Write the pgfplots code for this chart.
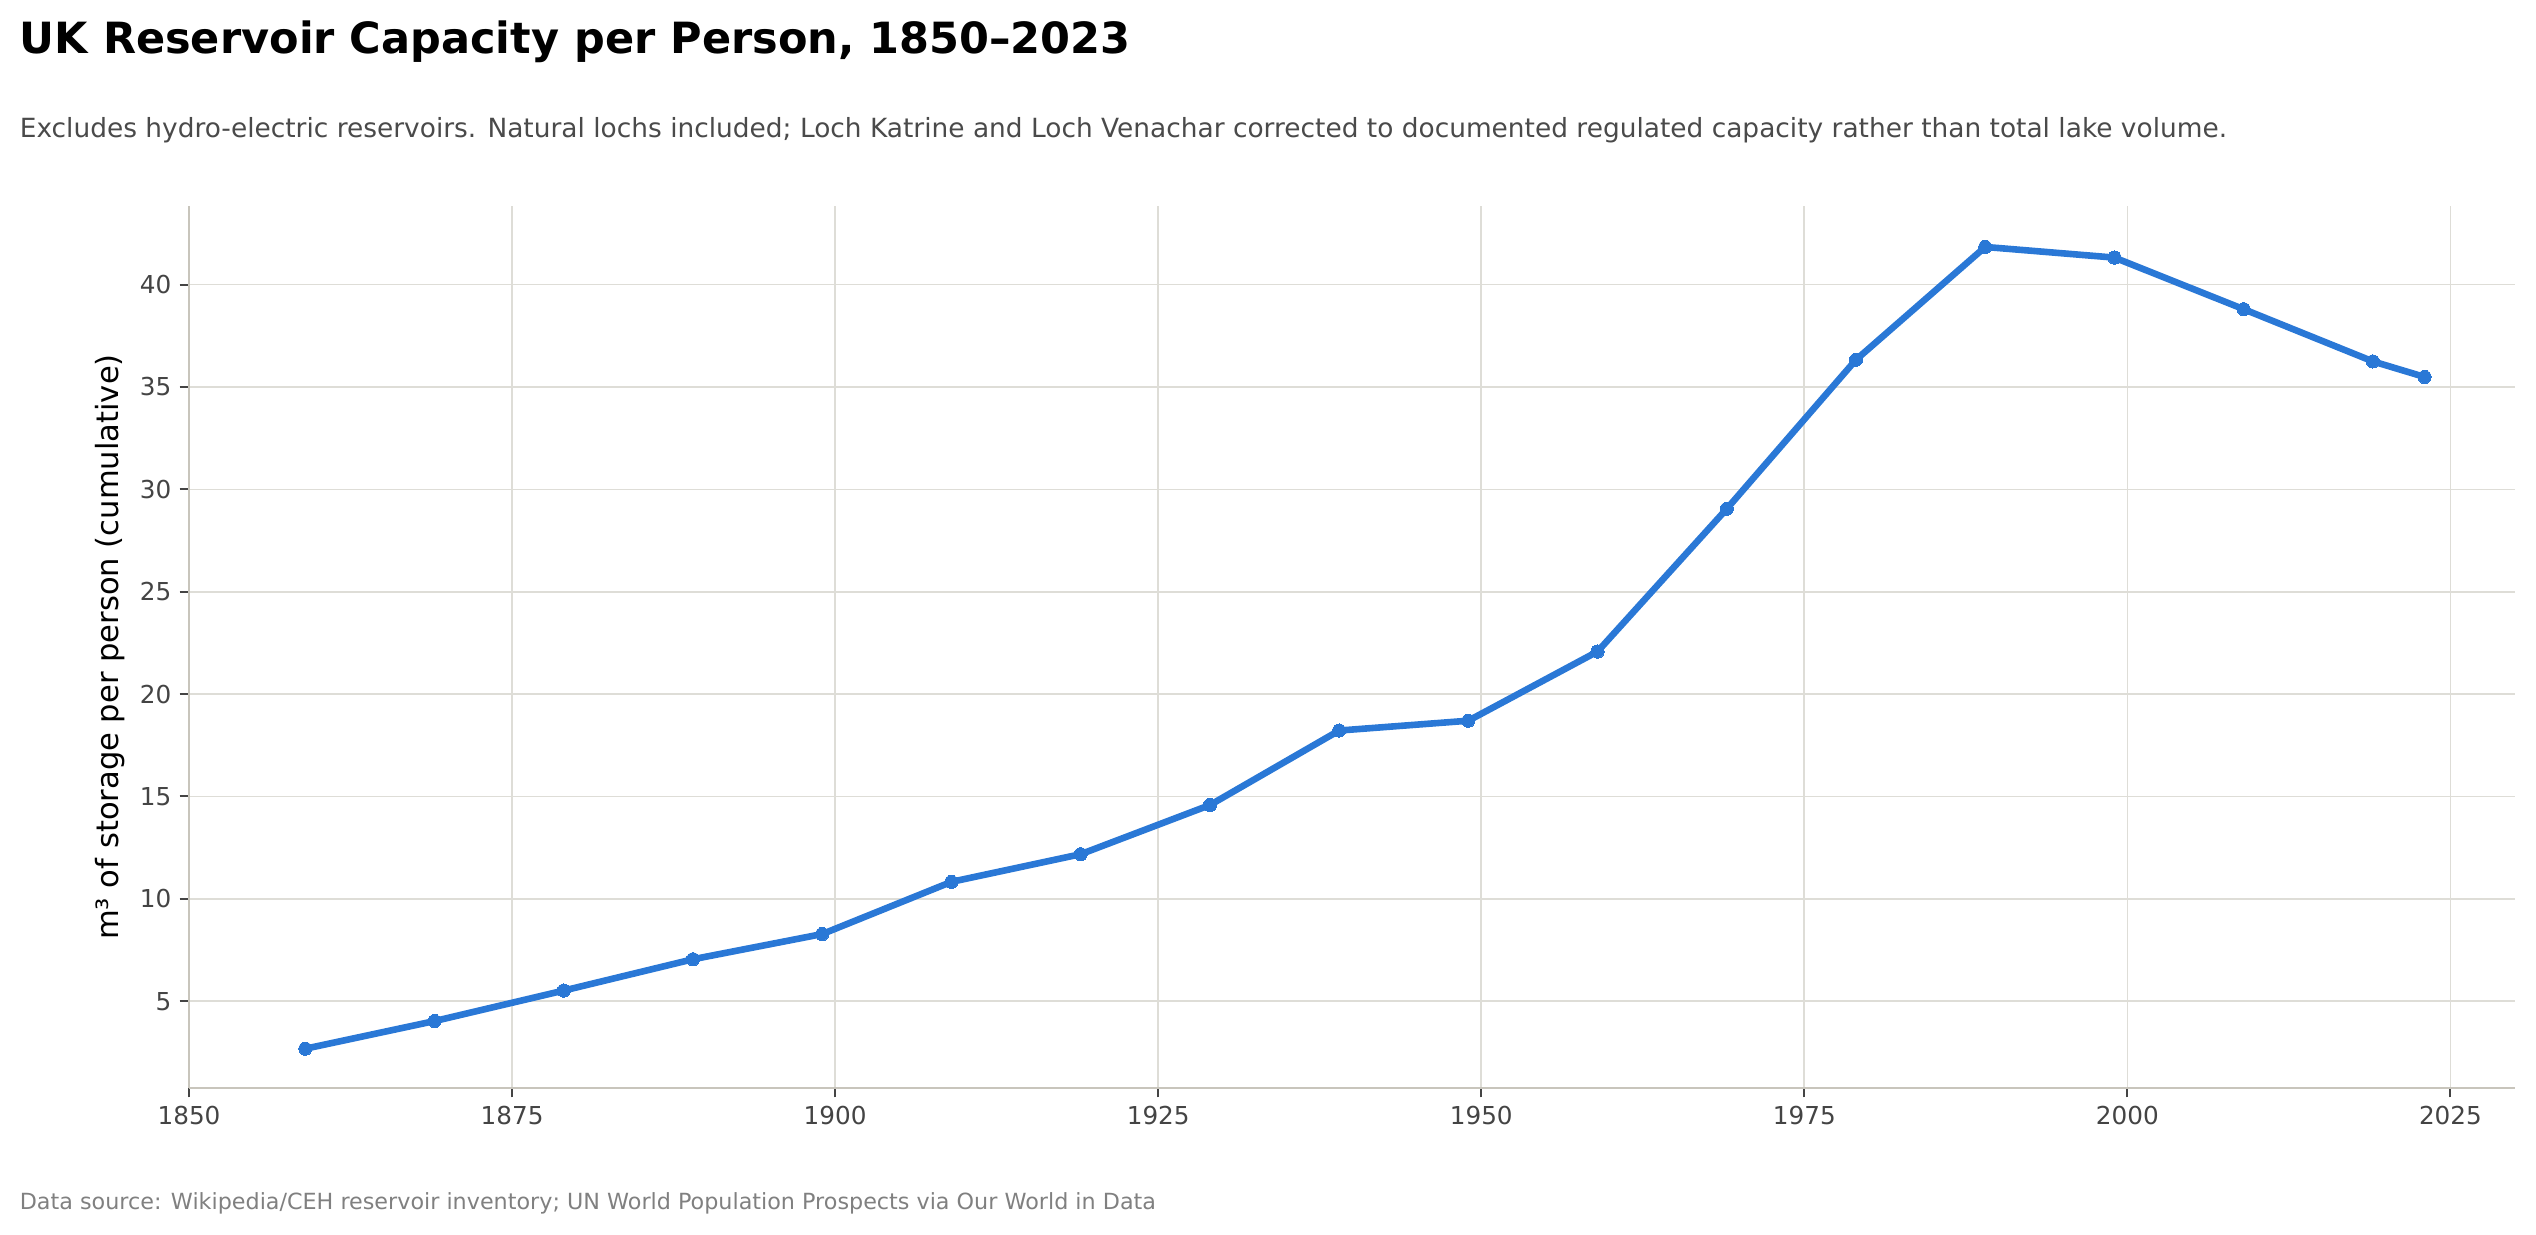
\documentclass[border=0pt]{standalone}
\usepackage{fontspec}
\setmainfont{DejaVu Sans}
\usepackage{pgfplots}
\pgfplotsset{compat=1.18}
\definecolor{linec}{HTML}{2A78D6}
\definecolor{gridc}{HTML}{DEDDD7}
\definecolor{spinec}{HTML}{C8C5BC}
\definecolor{tickc}{HTML}{444444}
\definecolor{subc}{HTML}{4A4A4A}
\definecolor{footc}{HTML}{808080}
\begin{document}
\begin{tikzpicture}[x=1bp,y=1bp]
\useasboundingbox (0,0) rectangle (1074.5,522.9);
\begin{axis}[
  at={(80.1bp,61.9bp)}, anchor=south west,
  scale only axis, width=985.5bp, height=373.7bp,
  xmin=1850, xmax=2030, ymin=0.76, ymax=43.84,
  axis x line*=bottom, axis y line*=left,
  axis line style={spinec, line width=1bp, -},
  tick align=outside,
  major tick length=4bp,
  tick style={tickc, line width=0.85bp},
  xtick={1850,1875,...,2025},
  ytick={5,10,...,40},
  grid=major,
  major grid style={gridc, line width=0.7bp},
  /pgf/number format/assume math mode=true,
  /pgf/number format/1000 sep={},
  ticklabel style={font=\fontsize{10.5}{12.5}\selectfont, text=tickc},
  ylabel={m³ of storage per person (cumulative)},
  ylabel style={font=\fontsize{13}{15}\selectfont, at={(axis description cs:-0.0341,0.5)}, anchor=center},
  clip=false,
]
\addplot[linec, line width=2.8bp, line join=round, mark=*, mark size=2.8bp, mark options={fill=linec, draw=linec, line width=0pt}]
coordinates {
(1859,2.68)
(1869,4.03)
(1879,5.52)
(1889,7.05)
(1899,8.28)
(1909,10.83)
(1919,12.18)
(1929,14.58)
(1939,18.22)
(1949,18.70)
(1959,22.08)
(1969,29.05)
(1979,36.33)
(1989,41.84)
(1999,41.32)
(2009,38.80)
(2019,36.25)
(2023,35.49)
};
\end{axis}
\node[anchor=base west, inner sep=0pt, font=\bfseries\fontsize{18.3}{22}\selectfont] at (8.2,500.3) {UK Reservoir Capacity per Person, 1850–2023};
\node[anchor=base west, inner sep=0pt, text=subc, font=\fontsize{11.23}{14}\selectfont] at (8.2,464.6) {Excludes hydro-electric reservoirs. Natural lochs included; Loch Katrine and Loch Venachar corrected to documented regulated capacity rather than total lake volume.};
\node[anchor=base west, inner sep=0pt, text=footc, font=\fontsize{9.47}{11}\selectfont] at (8.2,10.3) {Data source: Wikipedia/CEH reservoir inventory; UN World Population Prospects via Our World in Data};
\end{tikzpicture}
\end{document}
